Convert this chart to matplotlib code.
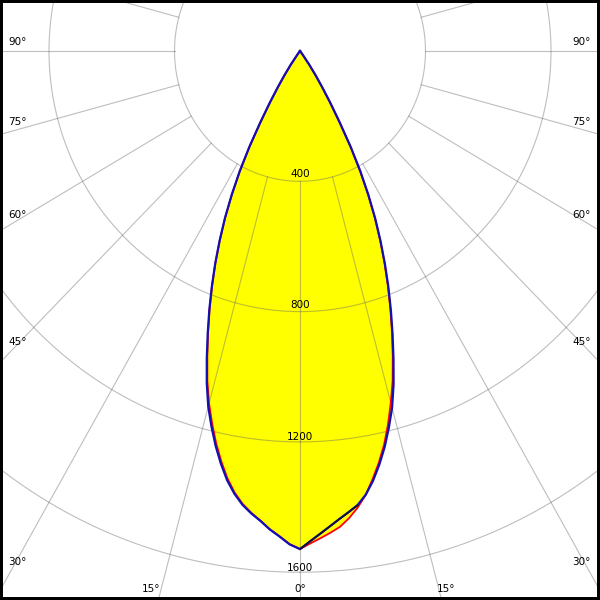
import numpy as np
import matplotlib.pyplot as plt
from matplotlib.patches import Rectangle

# gamma angles (deg) and luminous intensity (cd) for each half plane
angles = [0, 1.25, 2.5, 3.75, 5, 6.25, 7.5, 8.75, 10, 11.25, 12.5, 13.75, 15, 16.25,
          17.5, 18.75, 20, 21.25, 22.5, 23.75, 25, 26.25, 27.5, 28.75, 30, 31.25,
          32.5, 33.75, 35, 37.5, 40]
c0 = [1529, 1512, 1497, 1482, 1466, 1442, 1413, 1378, 1334, 1288, 1238, 1180, 1118, 1055,
      983, 912, 842, 773, 704, 634, 564, 490, 414, 334, 251, 184, 130, 88, 52, 12, 0]
c180 = [1529, 1514, 1491, 1471, 1447, 1426, 1402, 1371, 1332, 1285, 1234, 1178, 1120, 1055,
        982, 911, 842, 773, 705, 635, 565, 491, 415, 334, 251, 184, 130, 88, 52, 12, 0]
c90 = [1529, 1505, 1483, 1462, 1442, 1424, 1406, 1378, 1340, 1295, 1246, 1191, 1134, 1066,
       991, 918, 847, 777, 707, 637, 567, 493, 417, 336, 253, 186, 131, 89, 52, 12, 0]
c270 = [1529, 1515, 1492, 1472, 1448, 1428, 1405, 1375, 1338, 1292, 1242, 1187, 1130, 1062,
        988, 915, 845, 775, 706, 636, 566, 492, 416, 335, 252, 185, 130, 88, 52, 12, 0]

rings = [400, 800, 1200, 1600, 2000]
spoke_angles = np.arange(-180, 181, 15)
angle_labels = ["90°", "75°", "60°", "45°", "30°"]


def half(vals, side):
    a = np.radians(angles)
    v = np.array(vals, dtype=float)
    return side * v * np.sin(a), -v * np.cos(a)


def plane(left, right):
    xl, yl = half(left, -1)
    xr, yr = half(right, 1)
    return np.concatenate([xl[::-1], xr]), np.concatenate([yl[::-1], yr])


fig = plt.figure(figsize=(6, 6), dpi=100)
ax = fig.add_axes([0, 0, 1, 1])
ax.set_xlim(-956.2, 956.2)
ax.set_ylim(-1685.3, 156.6)
ax.axis("off")

# yellow area
for left, right in [(c180, c0), (c270, c90)]:
    x, y = plane(left, right)
    ax.fill(x, y, color="#ffff00", lw=0, zorder=1)

# grid on top of the fill
gcol = "#646464"
t = np.linspace(0, 2 * np.pi, 721)
for r in rings:
    ax.plot(r * np.sin(t), -r * np.cos(t), color=gcol, alpha=0.42, lw=0.8, zorder=2)
for s in spoke_angles:
    a = np.radians(s)
    ax.plot([400 * np.sin(a), 4000 * np.sin(a)], [-400 * np.cos(a), -4000 * np.cos(a)],
            color=gcol, alpha=0.42, lw=0.8, zorder=2)

# curves
x, y = plane(c180, c0)
ax.plot(x, y, color="#ff0000", lw=1.3, zorder=3)
x, y = plane(c270, c90)
ax.plot(x, y, color="#1010b4", lw=1.6, zorder=4)
xr, yr = half(c90, 1)
ax.plot(xr[:7], yr[:7], color="#101030", lw=1.2, zorder=5)

# intensity labels
for r, yp in zip(rings[:4], [174, 305, 437, 568]):
    fig.text(0.5, 1 - yp / 600, str(r), ha="center", va="center", fontsize=7.5)

# angle labels
for lab, yp in zip(angle_labels, [42, 122, 215, 342, 562]):
    fig.text(8 / 600, 1 - yp / 600, lab, ha="left", va="center", fontsize=7.5)
    fig.text(591 / 600, 1 - yp / 600, lab, ha="right", va="center", fontsize=7.5)
fig.text(160 / 600, 1 - 589 / 600, "15°", ha="right", va="center", fontsize=7.5)
fig.text(300 / 600, 1 - 589 / 600, "0°", ha="center", va="center", fontsize=7.5)
fig.text(437 / 600, 1 - 589 / 600, "15°", ha="left", va="center", fontsize=7.5)

fig.patches.append(Rectangle((0, 0), 1, 1, transform=fig.transFigure, fill=False,
                             edgecolor="black", lw=4.3))

fig.savefig("out.png", dpi=100)
